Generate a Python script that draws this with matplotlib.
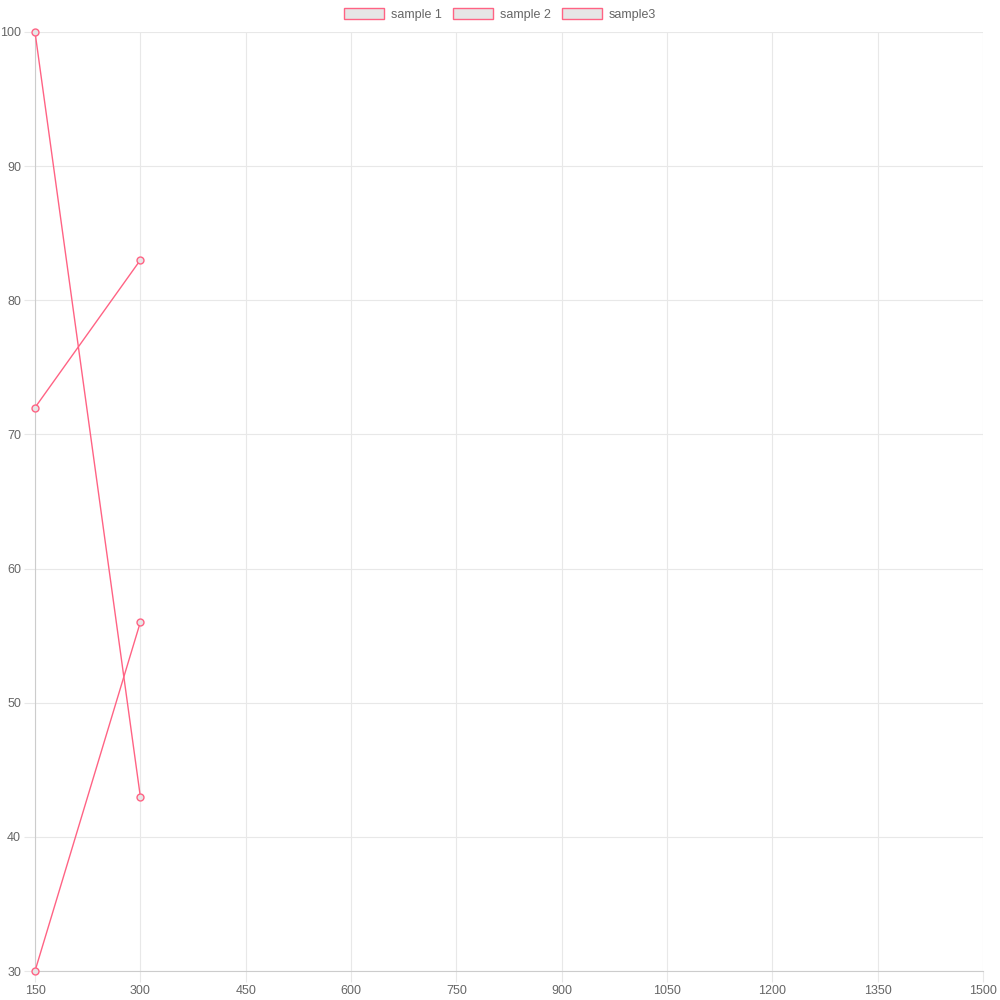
import matplotlib
matplotlib.use('Agg')
import matplotlib.pyplot as plt
from matplotlib.patches import Patch

x_values = [150, 300]
sample1 = [72, 83]
sample2 = [100, 43]
sample3 = [30, 56]
series_names = ['sample 1', 'sample 2', 'sample3']
x_ticks = [150, 300, 450, 600, 750, 900, 1050, 1200, 1350, 1500]
y_ticks = [30, 40, 50, 60, 70, 80, 90, 100]

line_color = '#ff6384'
fill_color = '#e6e6e6'
text_color = '#666666'
grid_color = '#e8e8e8'

plt.rcParams['font.family'] = ['Liberation Sans', 'DejaVu Sans']

fig = plt.figure(figsize=(10, 10), dpi=100)
ax = fig.add_axes([0.035, 0.029, 0.948, 0.939])

for ys in [sample1, sample2, sample3]:
    ax.plot(x_values, ys, color=line_color, linewidth=1,
            marker='o', markersize=5, markerfacecolor=fill_color,
            markeredgecolor=line_color, markeredgewidth=1, zorder=3,
            clip_on=False)

ax.set_xlim(150, 1500)
ax.set_ylim(30, 100)
ax.set_xticks(x_ticks)
ax.set_yticks(y_ticks)
ax.grid(True, color=grid_color, linewidth=0.8)
ax.set_axisbelow(True)
ax.tick_params(colors=grid_color, labelcolor=text_color, labelsize=9,
               length=8, width=0.8, pad=2)

for side in ['top', 'right']:
    ax.spines[side].set_visible(False)
for side in ['left', 'bottom']:
    ax.spines[side].set_color('#cccccc')
    ax.spines[side].set_linewidth(0.8)

# legend on top, chart.js style boxes
handles = [Patch(facecolor=fill_color, edgecolor=line_color, linewidth=1)
           for _ in series_names]
fig.legend(handles, series_names, loc='upper center', ncol=3,
           bbox_to_anchor=(0.5, 1.003), frameon=False, fontsize=9,
           labelcolor=text_color, handlelength=3.2, handleheight=1.0,
           handletextpad=0.6, columnspacing=0.85)

plt.savefig('out.png')
